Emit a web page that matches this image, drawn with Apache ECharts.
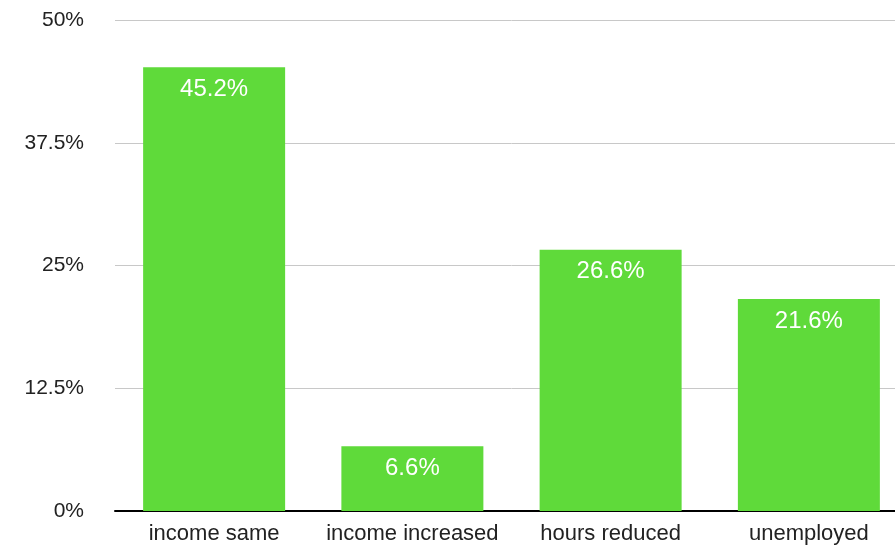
<!DOCTYPE html>
<html>
<head>
<meta charset="utf-8">
<script src="https://cdn.jsdelivr.net/npm/echarts@6/dist/echarts.min.js"></script>
<style>html,body{margin:0;padding:0;background:#fff;overflow:hidden}#c{width:910px;height:547px}</style>
</head>
<body>
<div id="c"></div>
<script>
const categories = ["income same", "income increased", "hours reduced", "unemployed"];
const values = [45.2, 6.6, 26.6, 21.6];
const yTicks = [0, 12.5, 25, 37.5, 50];

const chart = echarts.init(document.getElementById('c'));
chart.setOption({
  animation: false,
  grid: { left: 115, top: 20, width: 793, bottom: 36, containLabel: false },
  xAxis: {
    type: 'category',
    data: categories,
    axisLine: { lineStyle: { color: '#000', width: 2 } },
    axisTick: { show: false },
    axisLabel: { interval: 0, color: '#222', fontSize: 22, fontFamily: 'Liberation Sans, Arial, sans-serif', margin: 12 }
  },
  yAxis: {
    type: 'value',
    min: 0, max: 50, interval: 12.5,
    axisLine: { show: false },
    axisTick: { show: false },
    splitLine: { lineStyle: { color: '#c8c8c8', width: 1 } },
    axisLabel: {
      color: '#222', fontSize: 21, fontFamily: 'Liberation Sans, Arial, sans-serif', margin: 31,
      padding: [3, 0, 0, 0],
      formatter: v => (yTicks.includes(v) ? v + '%' : '')
    }
  },
  series: [{
    type: 'bar',
    data: values,
    barWidth: 142,
    itemStyle: { color: '#5FDA3A' },
    label: {
      show: true, position: 'insideTop', distance: 10,
      color: '#fff', fontSize: 24, fontFamily: 'Liberation Sans, Arial, sans-serif',
      formatter: p => p.value + '%'
    }
  }]
});
</script>
</body>
</html>
